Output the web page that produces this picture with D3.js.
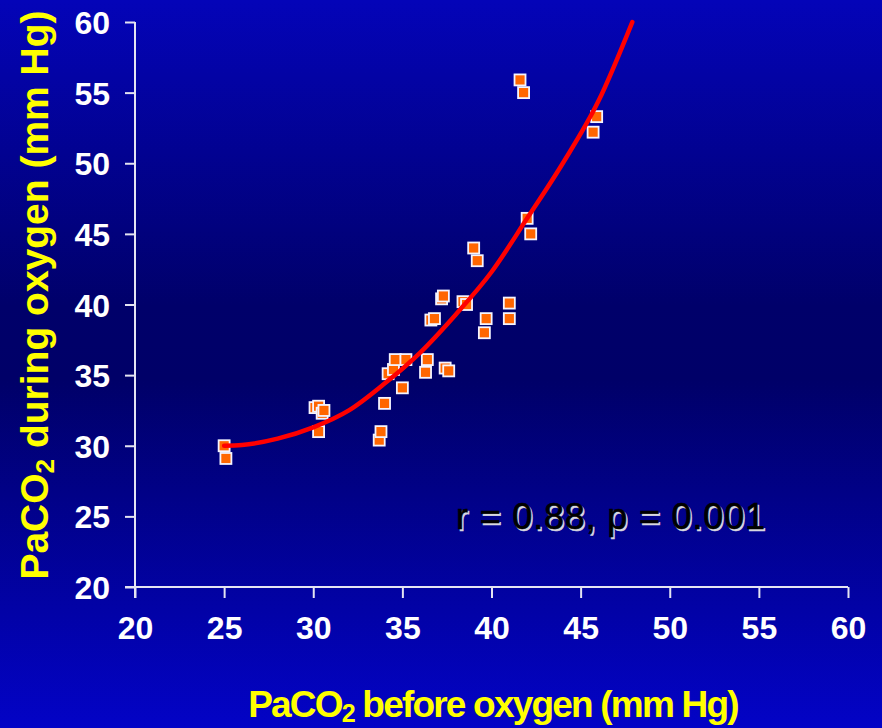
<!DOCTYPE html>
<html>
<head>
<meta charset="utf-8">
<script src="https://cdn.jsdelivr.net/npm/d3@7"></script>
<style>
  html, body { margin: 0; padding: 0; background: #000070; }
  svg { display: block; }
</style>
</head>
<body>
<svg id="chart" width="882" height="728"></svg>
<script>
// ---- data ----
const beforeO2 = [25.0, 25.1, 30.1, 30.3, 30.5, 30.6, 30.3, 33.7, 33.8, 34.0, 34.2, 34.5, 34.6, 35.2, 35.0,
                  36.4, 36.3, 37.4, 37.6, 36.6, 36.8, 37.2, 37.3, 38.4, 38.6, 39.0, 39.2, 39.7, 39.6,
                  41.0, 41.0, 41.6, 41.8, 42.0, 42.2, 45.9, 45.7];
const duringO2 = [30.0, 29.1, 32.7, 32.8, 32.3, 32.5, 31.0, 30.4, 31.0, 33.0, 35.1, 35.4, 36.1, 36.1, 34.1,
                  36.1, 35.2, 35.5, 35.3, 38.9, 39.0, 40.4, 40.6, 40.2, 40.0, 44.0, 43.1, 39.0, 38.0,
                  40.1, 39.0, 55.9, 55.0, 46.1, 45.0, 53.3, 52.2];
const fitX = [25, 26, 28, 30, 32, 34, 36, 38, 40, 42, 44, 46, 47.9];
const fitY = [30.0, 30.05, 30.5, 31.3, 32.5, 34.4, 36.6, 39.3, 42.3, 46.1, 50.0, 54.4, 60.0];
const xTicks = [20, 25, 30, 35, 40, 45, 50, 55, 60];
const yTicks = [20, 25, 30, 35, 40, 45, 50, 55, 60];
const xTitle = ["PaCO", "2", " before oxygen (mm Hg)"];
const yTitle = ["PaCO", "2", " during oxygen (mm Hg)"];
const statText = "r = 0.88, p = 0.001";

const svg = d3.select("#chart");
const W = 882, H = 728;
const FONT = "'Liberation Sans', Arial, Helvetica, sans-serif";

// background gradient
const defs = svg.append("defs");
const grad = defs.append("linearGradient").attr("id", "bg").attr("x1", 0).attr("y1", 0).attr("x2", 0).attr("y2", 1);
grad.append("stop").attr("offset", "0%").attr("stop-color", "#0404B8");
grad.append("stop").attr("offset", "42%").attr("stop-color", "#00006A");
grad.append("stop").attr("offset", "52%").attr("stop-color", "#000068");
grad.append("stop").attr("offset", "100%").attr("stop-color", "#0303C6");
svg.append("rect").attr("width", W).attr("height", H).attr("fill", "url(#bg)");

const x = d3.scaleLinear().domain([20, 60]).range([135, 848]);
const y = d3.scaleLinear().domain([20, 60]).range([587, 22]);
const axisColor = "#E4E4F2";

// Y axis
const gy = svg.append("g").attr("transform", `translate(${x(20)},0)`)
  .call(d3.axisLeft(y).tickValues(yTicks).tickSize(10).tickPadding(15).tickSizeOuter(0));
gy.select(".domain").remove();
gy.selectAll(".tick line").attr("stroke", axisColor).attr("stroke-width", 2);
gy.selectAll(".tick text").attr("fill", "#fff").attr("font-family", FONT)
  .attr("font-weight", "bold").attr("font-size", 32).attr("dy", "0.36em");
svg.append("line").attr("x1", x(20)).attr("x2", x(20)).attr("y1", y(60)).attr("y2", y(20) + 11)
  .attr("stroke", axisColor).attr("stroke-width", 2);

// X axis
const gx = svg.append("g").attr("transform", `translate(0,${y(20)})`)
  .call(d3.axisBottom(x).tickValues(xTicks).tickSize(11).tickPadding(14).tickSizeOuter(0));
gx.select(".domain").remove();
gx.selectAll(".tick line").attr("stroke", axisColor).attr("stroke-width", 2);
gx.selectAll(".tick text").attr("fill", "#fff").attr("font-family", FONT)
  .attr("font-weight", "bold").attr("font-size", 32).attr("dy", "0.85em");
svg.append("line").attr("x1", x(20) - 10).attr("x2", x(60)).attr("y1", y(20)).attr("y2", y(20))
  .attr("stroke", axisColor).attr("stroke-width", 2);

// points
const pts = beforeO2.map((v, i) => ({ x: v, y: duringO2[i] }));
const ms = 11;
svg.append("g").selectAll("rect").data(pts).join("rect")
  .attr("x", d => x(d.x) - ms / 2).attr("y", d => y(d.y) - ms / 2)
  .attr("width", ms).attr("height", ms)
  .attr("fill", "#FF6600").attr("stroke", "#F4F4FF").attr("stroke-width", 1.8);

// fitted curve
const fit = fitX.map((v, i) => [v, fitY[i]]);
svg.append("path").datum(fit)
  .attr("d", d3.line().x(d => x(d[0])).y(d => y(d[1])).curve(d3.curveMonotoneX))
  .attr("fill", "none").attr("stroke", "#FF0000").attr("stroke-width", 4.5)
  .attr("stroke-linecap", "round");

// annotation
const annX = 456, annY = 529;
svg.append("text").attr("x", annX + 1.5).attr("y", annY + 1.5)
  .attr("font-family", FONT).attr("font-size", 36).attr("fill", "#D8D8E0")
  .attr("stroke", "#D8D8E0").attr("stroke-width", 0.6)
  .attr("textLength", 309).attr("lengthAdjust", "spacing").text(statText);
svg.append("text").attr("x", annX).attr("y", annY)
  .attr("font-family", FONT).attr("font-size", 36).attr("fill", "#000")
  .attr("stroke", "#000").attr("stroke-width", 0.6)
  .attr("textLength", 309).attr("lengthAdjust", "spacing").text(statText);

// X title
const xt = svg.append("text").attr("x", 493).attr("y", 717).attr("text-anchor", "middle")
  .attr("font-family", FONT).attr("font-weight", "bold").attr("font-size", 37)
  .attr("letter-spacing", "-1.8px").attr("fill", "#FFFF00");
xt.append("tspan").text(xTitle[0]);
xt.append("tspan").attr("font-size", 25).attr("dy", 5).text(xTitle[1]);
xt.append("tspan").attr("dy", -5).text(xTitle[2]);

// Y title
const yt = svg.append("text").attr("transform", "translate(48,295) rotate(-90)").attr("text-anchor", "middle")
  .attr("font-family", FONT).attr("font-weight", "bold").attr("font-size", 39)
  .attr("fill", "#FFFF00");
yt.append("tspan").text(yTitle[0]);
yt.append("tspan").attr("font-size", 26).attr("dy", 6).text(yTitle[1]);
yt.append("tspan").attr("dy", -6).text(yTitle[2]);
</script>
</body>
</html>
